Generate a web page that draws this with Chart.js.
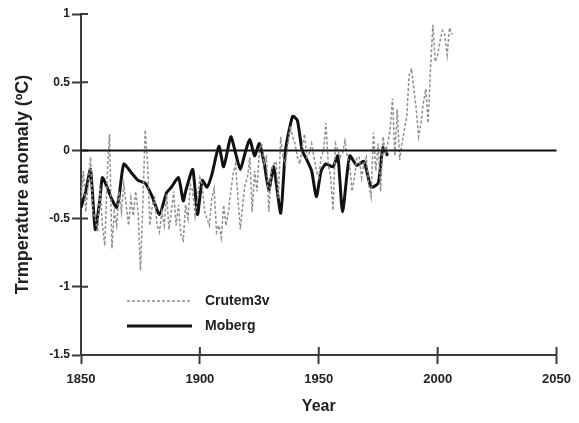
<!DOCTYPE html>
<html>
<head>
<meta charset="utf-8">
<script src="https://cdn.jsdelivr.net/npm/chart.js@4.4.1/dist/chart.umd.min.js"></script>
<style>
  body { margin: 0; background: #fff; }
  canvas { display: block; }
</style>
</head>
<body>
<canvas id="myChart" width="579" height="423"></canvas>
<script>
//data
const crutYears = [
  1850, 1851, 1852, 1853, 1854, 1855, 1856, 1857, 1858, 1859,
  1860, 1861, 1862, 1863, 1864, 1865, 1866, 1867, 1868, 1869,
  1870, 1871, 1872, 1873, 1874, 1875, 1876, 1877, 1878, 1879,
  1880, 1881, 1882, 1883, 1884, 1885, 1886, 1887, 1888, 1889,
  1890, 1891, 1892, 1893, 1894, 1895, 1896, 1897, 1898, 1899,
  1900, 1901, 1902, 1903, 1904, 1905, 1906, 1907, 1908, 1909,
  1910, 1911, 1912, 1913, 1914, 1915, 1916, 1917, 1918, 1919,
  1920, 1921, 1922, 1923, 1924, 1925, 1926, 1927, 1928, 1929,
  1930, 1931, 1932, 1933, 1934, 1935, 1936, 1937, 1938, 1939,
  1940, 1941, 1942, 1943, 1944, 1945, 1946, 1947, 1948, 1949,
  1950, 1951, 1952, 1953, 1954, 1955, 1956, 1957, 1958, 1959,
  1960, 1961, 1962, 1963, 1964, 1965, 1966, 1967, 1968, 1969,
  1970, 1971, 1972, 1973, 1974, 1975, 1976, 1977, 1978, 1979,
  1980, 1981, 1982, 1983, 1984, 1985, 1986, 1987, 1988, 1989,
  1990, 1991, 1992, 1993, 1994, 1995, 1996, 1997, 1998, 1999,
  2000, 2001, 2002, 2003, 2004, 2005, 2006
];
const crutValues = [
  -0.35, -0.15, -0.45, -0.25, -0.05, -0.45, -0.50, -0.60, -0.25, -0.55,
  -0.70, -0.20, 0.12, -0.72, -0.45, -0.55, -0.30, -0.45, -0.25, -0.40,
  -0.55, -0.35, -0.48, -0.30, -0.45, -0.88, -0.40, 0.15, -0.10, -0.55,
  -0.40, -0.35, -0.55, -0.60, -0.45, -0.55, -0.32, -0.58, -0.45, -0.30,
  -0.55, -0.40, -0.62, -0.66, -0.40, -0.50, -0.25, -0.30, -0.48, -0.35,
  -0.20, -0.25, -0.45, -0.50, -0.55, -0.35, -0.28, -0.60, -0.55, -0.64,
  -0.40, -0.55, -0.45, -0.30, -0.17, -0.10, -0.35, -0.58, -0.40, -0.25,
  -0.20, -0.05, -0.45, -0.15, -0.30, 0.00, 0.05, -0.10, -0.05, -0.45,
  -0.15, -0.10, -0.08, -0.35, 0.10, -0.05, -0.10, 0.05, 0.18, 0.10,
  0.05, -0.05, -0.10, 0.02, 0.12, -0.05, -0.02, 0.05, -0.05, -0.15,
  -0.20, -0.05, 0.00, 0.20, -0.10, -0.20, -0.44, 0.05, 0.00, -0.05,
  -0.02, 0.07, -0.05, -0.10, -0.30, -0.20, -0.05, -0.05, -0.20, -0.10,
  -0.05, -0.25, -0.34, 0.13, -0.15, 0.05, -0.30, 0.10, -0.02, 0.05,
  0.15, 0.38, -0.04, 0.30, -0.07, 0.05, 0.15, 0.25, 0.55, 0.60,
  0.45, 0.30, 0.10, 0.20, 0.35, 0.45, 0.20, 0.60, 0.92, 0.65,
  0.70, 0.80, 0.88, 0.85, 0.70, 0.90, 0.85
];

const mobergYears = [
  1850, 1852, 1854, 1856, 1858, 1859, 1861, 1863, 1865, 1866,
  1868, 1871, 1874, 1877, 1880, 1883, 1886, 1888, 1891, 1893,
  1894, 1897, 1899, 1901, 1903, 1905, 1908, 1910, 1913, 1915,
  1917, 1919, 1921, 1923, 1925, 1927, 1929, 1931, 1934, 1936,
  1939, 1941, 1943, 1945, 1947, 1949, 1951, 1953, 1956, 1958,
  1960, 1963, 1966, 1969, 1972, 1975, 1977, 1979
];
const mobergValues = [
  -0.42, -0.30, -0.14, -0.58, -0.35, -0.20, -0.27, -0.36, -0.42, -0.34,
  -0.10, -0.16, -0.22, -0.24, -0.34, -0.47, -0.31, -0.27, -0.20, -0.37,
  -0.30, -0.14, -0.47, -0.22, -0.27, -0.18, 0.03, -0.12, 0.10, -0.02,
  -0.14, -0.02, 0.08, -0.04, 0.05, -0.09, -0.29, -0.12, -0.46, 0.00,
  0.25, 0.22, 0.00, -0.07, -0.15, -0.34, -0.15, -0.10, -0.12, -0.04,
  -0.45, -0.04, -0.11, -0.08, -0.27, -0.24, 0.02, -0.04
];

const xTicks = [1850, 1900, 1950, 2000, 2050];
const yTicks = [-1.5, -1, -0.5, 0, 0.5, 1];
const seriesNames = ["Crutem3v", "Moberg"];

const ctx = document.getElementById("myChart");
const fontFamily = "'Liberation Sans', Arial, sans-serif";
const axisColor = "#3a3a3a";

const toPoints = (xs, ys) => xs.map((x, i) => ({ x: x, y: ys[i] }));

//tick marks cross the axis line, draw the inner half here
const innerTicks = {
  id: "innerTicks",
  afterDraw(chart) {
    const c = chart.ctx;
    const xs = chart.scales.x;
    const ys = chart.scales.y;
    const area = chart.chartArea;
    c.save();
    c.strokeStyle = axisColor;
    c.lineWidth = 2;
    c.beginPath();
    xTicks.forEach((v) => {
      const px = xs.getPixelForValue(v);
      c.moveTo(px, area.bottom);
      c.lineTo(px, area.bottom - 8);
    });
    yTicks.forEach((v) => {
      const py = ys.getPixelForValue(v);
      c.moveTo(area.left, py);
      c.lineTo(area.left + 7, py);
    });
    c.stroke();
    // zero line sits on top of the grey series
    const zero = ys.getPixelForValue(0);
    c.strokeStyle = "#111";
    c.beginPath();
    c.moveTo(area.left, zero);
    c.lineTo(area.right, zero);
    c.stroke();
    c.restore();
  },
};

//legend drawn inside the plot, bottom left
const innerLegend = {
  id: "innerLegend",
  afterDatasetsDraw(chart) {
    const c = chart.ctx;
    const rows = [
      { y: 301, dash: [3, 2], color: "#8f8f8f", width: 1.5 },
      { y: 326, dash: [], color: "#111", width: 3 },
    ];
    c.save();
    rows.forEach((row, i) => {
      c.beginPath();
      c.setLineDash(row.dash);
      c.strokeStyle = row.color;
      c.lineWidth = row.width;
      c.moveTo(127, row.y);
      c.lineTo(192, row.y);
      c.stroke();
      c.setLineDash([]);
      c.fillStyle = "#222";
      c.font = "bold 14px " + fontFamily;
      c.textBaseline = "middle";
      c.fillText(seriesNames[i], 205, row.y);
    });
    c.restore();
  },
};

new Chart(ctx, {
  type: "line",
  data: {
    datasets: [
      {
        label: seriesNames[0],
        data: toPoints(crutYears, crutValues),
        borderColor: "#8f8f8f",
        borderWidth: 1.5,
        borderDash: [3, 2],
        pointRadius: 0,
        tension: 0,
      },
      {
        label: seriesNames[1],
        data: toPoints(mobergYears, mobergValues),
        borderColor: "#111",
        borderWidth: 3,
        pointRadius: 0,
        tension: 0.2,
      },
    ],
  },
  options: {
    responsive: false,
    devicePixelRatio: 1,
    animation: false,
    layout: { padding: { top: 14, right: 21, left: 0, bottom: 0 } },
    plugins: {
      legend: { display: false },
      tooltip: { enabled: false },
    },
    scales: {
      x: {
        type: "linear",
        min: 1850,
        max: 2050,
        afterBuildTicks: (scale) => {
          scale.ticks = xTicks.map((v) => ({ value: v }));
        },
        afterFit: (scale) => {
          scale.height = 68;
        },
        ticks: {
          color: "#222",
          font: { family: fontFamily, size: 13, weight: "bold" },
          padding: 8,
          maxRotation: 0,
          callback: (v) => String(v),
        },
        grid: {
          drawOnChartArea: false,
          tickLength: 9,
          tickColor: axisColor,
          tickWidth: 2,
        },
        border: { color: axisColor, width: 2 },
        title: {
          display: true,
          text: "Year",
          color: "#222",
          font: { family: fontFamily, size: 16, weight: "bold" },
          padding: { top: 0, bottom: 7 },
        },
      },
      y: {
        min: -1.5,
        max: 1,
        afterBuildTicks: (scale) => {
          scale.ticks = yTicks.map((v) => ({ value: v }));
        },
        afterFit: (scale) => {
          scale.width = 81;
        },
        ticks: {
          color: "#222",
          font: { family: fontFamily, size: 12, weight: "bold" },
          padding: 2,
          callback: (v) => String(v),
        },
        grid: {
          drawOnChartArea: false,
          tickLength: 9,
          tickColor: axisColor,
          tickWidth: 2,
        },
        border: { color: axisColor, width: 2 },
        title: {
          display: true,
          text: "Trmperature anomaly (ºC)",
          color: "#222",
          font: { family: fontFamily, size: 18, weight: "bold" },
          padding: { top: 12, bottom: 0 },
        },
      },
    },
  },
  plugins: [innerTicks, innerLegend],
});
</script>
</body>
</html>
